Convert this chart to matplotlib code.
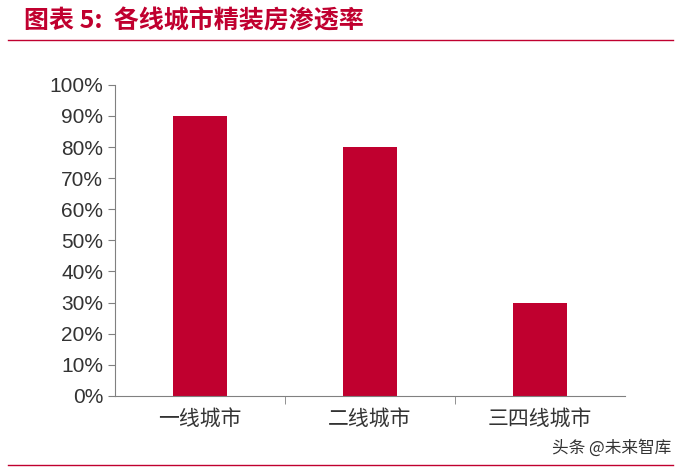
import matplotlib
matplotlib.use("Agg")
import matplotlib.pyplot as plt
from matplotlib.ticker import PercentFormatter
from matplotlib.lines import Line2D

plt.rcParams['font.family'] = ['Liberation Sans', 'Noto Sans CJK SC', 'DejaVu Sans']

categories = ['一线城市', '二线城市', '三四线城市']
values = [90, 80, 30]
yticks = list(range(0, 101, 10))
red = '#C0002F'

fig = plt.figure(figsize=(6.81, 4.69), dpi=100)
ax = fig.add_axes([0.169, 0.156, 0.749, 0.663])
ax.bar(range(len(categories)), values, width=0.32, color=red)
ax.set_xlim(-0.5, 2.5)
ax.set_ylim(0, 100)
ax.set_yticks(yticks)
ax.yaxis.set_major_formatter(PercentFormatter(decimals=0))
ax.set_xticks([0.5, 1.5], minor=True)
ax.set_xticks(range(3))
ax.set_xticklabels(categories, family=['Noto Sans CJK SC'])
ax.tick_params(axis='x', which='major', length=0, pad=9, labelsize=15, colors='#333333')
ax.tick_params(axis='x', which='minor', length=6, direction='out', color='#808080')
ax.tick_params(axis='y', length=5, direction='out', labelsize=15, colors='#333333', color='#808080')
for s in ['top', 'right']:
    ax.spines[s].set_visible(False)
for s in ['left', 'bottom']:
    ax.spines[s].set_color('#808080')

fig.text(0.035, 0.955, '图表 5:  各线城市精装房渗透率', color=red, fontsize=18, fontweight='bold',
         family=['Noto Sans CJK SC'], va='center')
fig.add_artist(Line2D([0.012, 0.988], [0.915, 0.915], color=red, lw=1))
fig.add_artist(Line2D([0.012, 0.988], [0.008, 0.008], color=red, lw=1))
fig.text(0.985, 0.045, '头条 @未来智库', color='#333333', fontsize=12, ha='right', va='center',
         family=['Noto Sans CJK SC'])
fig.savefig('out.png', dpi=100)
